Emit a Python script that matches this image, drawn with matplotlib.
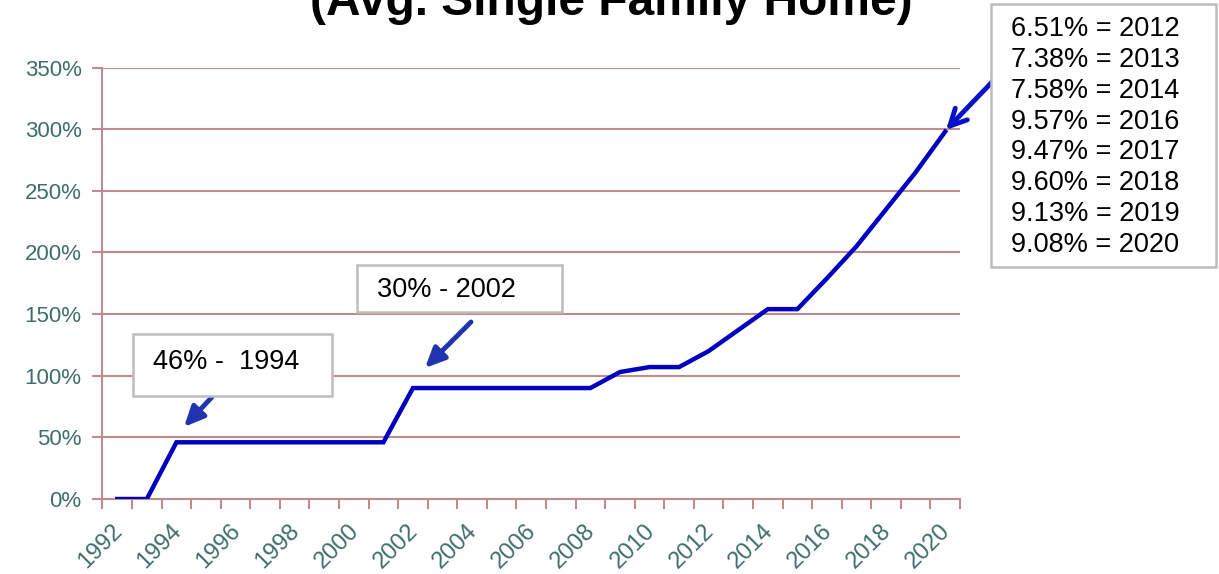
import matplotlib.pyplot as plt
from matplotlib.patches import FancyArrowPatch, Rectangle
from matplotlib.transforms import ScaledTranslation
import numpy as np

plt.rcParams['font.family'] = ['Liberation Sans', 'DejaVu Sans']

# Cumulative appreciation (Avg. Single Family Home), one value per year
years = list(range(1992, 2021))
growth = [0, 0, 46, 46, 46, 46, 46, 46, 46, 46,
          90, 90, 90, 90, 90, 90, 90,
          103, 107, 107, 120, 137, 154, 154, 179, 205, 235, 265, 298]
y_ticks = [0, 50, 100, 150, 200, 250, 300, 350]

title = '(Avg. Single Family Home)'
note_1994 = '46% -  1994'
note_2002 = '30% - 2002'
rate_lines = ['6.51% = 2012', '7.38% = 2013', '7.58% = 2014', '9.57% = 2016',
              '9.47% = 2017', '9.60% = 2018', '9.13% = 2019', '9.08% = 2020']

W, H = 1219, 574
grid_col = '#BF8C8E'
tick_col = '#3E6E6C'
line_col = '#0000C0'
arrow_col = '#2034B0'


def fx(px):
    return px / W


def fy(py):
    return 1 - py / H


fig = plt.figure(figsize=(W / 100, H / 100), dpi=100)
ax = fig.add_axes([fx(102.5), fy(499), fx(960) - fx(102.5), fy(67.5) - fy(499)])

x = np.arange(len(years))
ax.plot(x, growth, color=line_col, lw=3.2, solid_joinstyle='miter', zorder=3)

ax.set_xlim(-0.5, len(years) - 0.5)
ax.set_ylim(0, 350)

# y axis: gridlines every 50%
ax.set_yticks(y_ticks)
ax.set_yticklabels([f'{v}%' for v in y_ticks])
ax.yaxis.grid(True, color=grid_col, lw=1.5)
ax.tick_params(axis='y', length=7, width=1.5, color=grid_col, labelcolor=tick_col,
               labelsize=16, pad=8)

# x axis: category boundaries get tick marks, every other year gets a label
ax.set_xticks(np.arange(-0.5, len(years), 1))
ax.set_xticklabels([])
ax.set_xticks(x[::2], minor=True)
ax.set_xticklabels([str(y) for y in years[::2]], minor=True, rotation=45,
                   ha='right', va='top', rotation_mode='anchor')
ax.tick_params(axis='x', which='major', length=7, width=1.5, color=grid_col)
ax.tick_params(axis='x', which='minor', length=0, labelcolor=tick_col,
               labelsize=17, pad=15)
shift = ScaledTranslation(-6 / 100, 0, fig.dpi_scale_trans)
for lbl in ax.get_xticklabels(minor=True):
    lbl.set_transform(lbl.get_transform() + shift)

for side in ['top', 'right']:
    ax.spines[side].set_visible(False)
for side in ['left', 'bottom']:
    ax.spines[side].set_color(grid_col)
    ax.spines[side].set_linewidth(1.5)
ax.set_axisbelow(True)

# title, partly cut off at the top edge
fig.text(fx(611), fy(15), title, ha='center', va='baseline',
         fontsize=34.5, fontweight='bold', color='black')


def note_box(x0, y0, x1, y1):
    fig.add_artist(Rectangle((fx(x0), fy(y1)), fx(x1) - fx(x0), fy(y0) - fy(y1),
                             transform=fig.transFigure, fc='white', ec='#BDBDBD',
                             lw=1.8, zorder=5))


def arrow(x0, y0, x1, y1, style='-|>,head_length=12,head_width=5.5', color=arrow_col):
    fig.add_artist(FancyArrowPatch(
        (fx(x0), fy(y0)), (fx(x1), fy(y1)), transform=fig.transFigure,
        arrowstyle=style, color=color, lw=3.5, shrinkA=0, shrinkB=0,
        capstyle='round', joinstyle='round', zorder=4))


# 1994 note
note_box(133, 334, 332, 396)
fig.text(fx(153), fy(362), note_1994, ha='left', va='center', fontsize=19.5,
         color='black', zorder=6)
arrow(212, 397, 184, 427)

# 2002 note
note_box(357, 265, 562, 312)
fig.text(fx(377), fy(290), note_2002, ha='left', va='center', fontsize=19.5,
         color='black', zorder=6)
arrow(471, 322, 425, 368)

# rates note
arrow(994, 80, 946, 130, style='->,head_length=12,head_width=6', color='#0A10C8')
note_box(991, 4, 1216, 267)
fig.text(fx(1011), fy(137), '\n'.join(rate_lines), ha='left', va='center',
         fontsize=19.5, linespacing=1.24, color='black', zorder=6)

fig.savefig('out.png', dpi=100)
